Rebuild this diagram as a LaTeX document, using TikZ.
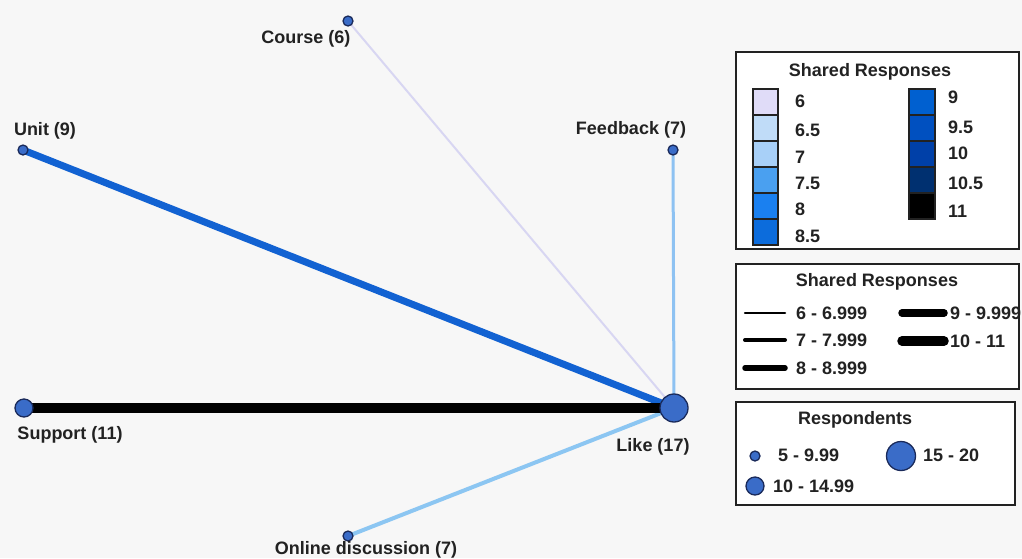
\documentclass[tikz,border=0pt]{standalone}
\usepackage{fontspec}
\setmainfont{Liberation Sans}
\usetikzlibrary{backgrounds}
\definecolor{bgc}{HTML}{F7F7F7}
\definecolor{txt}{HTML}{222222}
\definecolor{nodefill}{HTML}{3A6CC8}
\definecolor{nodeline}{HTML}{1A2A5A}
\definecolor{cA}{HTML}{E0DCF8}
\definecolor{cB}{HTML}{C0DCF8}
\definecolor{cC}{HTML}{A8D0F8}
\definecolor{cD}{HTML}{4AA0F0}
\definecolor{cE}{HTML}{1A80F0}
\definecolor{cF}{HTML}{0C6CDC}
\definecolor{cG}{HTML}{0060D0}
\definecolor{cH}{HTML}{0050C0}
\definecolor{cI}{HTML}{0040A8}
\definecolor{cJ}{HTML}{003070}
\definecolor{cK}{HTML}{000000}
\definecolor{edgeUnit}{HTML}{1262D2}
\definecolor{edgeCourse}{HTML}{D8D6F2}
\definecolor{edgeFeed}{HTML}{8EC2F2}
\definecolor{edgeOnline}{HTML}{8CC6F2}
\tikzset{
  x=1pt, y=-1pt,
  lbl/.style={font=\fontsize{18}{20}\selectfont\bfseries, text=txt, inner sep=0pt},
  circS/.style={circle, draw=nodeline, line width=1.3pt, fill=nodefill, minimum size=10pt, inner sep=0pt},
  circM/.style={circle, draw=nodeline, line width=1.3pt, fill=nodefill, minimum size=18pt, inner sep=0pt},
  circL/.style={circle, draw=nodeline, line width=1.3pt, fill=nodefill, minimum size=28pt, inner sep=0pt},
  legbox/.style={draw=txt, line width=1.4pt, fill=white},
  swatch/.style={draw=txt, line width=1.2pt},
  legline/.style={line cap=round, draw=black},
}
\begin{document}
\begin{tikzpicture}
\useasboundingbox (0,0) rectangle (1022,558);
\clip (0,0) rectangle (1022,558);

% network nodes
\node[circS] (course) at (348,21) {};
\node[circS] (unit) at (23,150) {};
\node[circS] (feed) at (673,150) {};
\node[circM] (support) at (24,408) {};
\node[circL] (like) at (674,408) {};
\node[circS] (online) at (348,536) {};

\begin{pgfonlayer}{background}
  \fill[bgc] (0,0) rectangle (1022,558);
  \draw[edgeCourse, line width=2pt] (course.center) -- (like.center);
  \draw[edgeFeed, line width=3pt] (feed.center) -- (like.center);
  \draw[edgeOnline, line width=4pt] (online.center) -- (like.center);
  \draw[edgeUnit, line width=7pt] (unit.center) -- (like.center);
  \draw[black, line width=10pt] (support.center) -- (like.center);
\end{pgfonlayer}

% node labels
\node[lbl] (courseL) at (306,39) {Course (6)};
\node[lbl] (unitL) at (45,131) {Unit (9)};
\node[lbl] (feedL) at (631,130) {Feedback (7)};
\node[lbl] (supportL) at (70,435) {Support (11)};
\node[lbl] (likeL) at (653,447) {Like (17)};
\node[lbl] (onlineL) at (366,550) {Online discussion (7)};

% legend 1: colours
\draw[legbox] (736,52) rectangle (1019,249);
\node[lbl] (t1) at (870,72) {Shared Responses};
\foreach \c/\v/\y/\ly [count=\i] in {cA/6/89/101, cB/6.5/115/130, cC/7/141/157, cD/7.5/167/183, cE/8/193/209, cF/8.5/219/236}{
  \draw[swatch, fill=\c] (753,\y) rectangle (778,\y+26);
  \node[lbl, anchor=west] (sl\i) at (795,\ly) {\v};
}
\foreach \c/\v/\y/\ly [count=\i] in {cG/9/89/97, cH/9.5/115/127, cI/10/141/153, cJ/10.5/167/183, cK/11/193/211}{
  \draw[swatch, fill=\c] (909,\y) rectangle (935,\y+26);
  \node[lbl, anchor=west] (sr\i) at (948,\ly) {\v};
}

% legend 2: widths
\draw[legbox] (736,264) rectangle (1019,389);
\node[lbl] (t2) at (877,282) {Shared Responses};
\draw[legline, line width=2.5pt] (745,313) -- (785,313);
\node[lbl, anchor=west] (w1) at (796,313) {6 - 6.999};
\draw[legline, line width=4pt] (745,340) -- (785,340);
\node[lbl, anchor=west] (w2) at (796,340) {7 - 7.999};
\draw[legline, line width=5.5pt] (745,368) -- (785,368);
\node[lbl, anchor=west] (w3) at (796,368) {8 - 8.999};
\draw[legline, line width=7.5pt] (902,313) -- (944,313);
\node[lbl, anchor=west] (w4) at (950,313) {9 - 9.999};
\draw[legline, line width=9.5pt] (902,341) -- (944,341);
\node[lbl, anchor=west] (w5) at (950,341) {10 - 11};

% legend 3: respondents
\draw[legbox] (736,402) rectangle (1015,505);
\node[lbl] (t3) at (855,420) {Respondents};
\node[circS] (r1) at (755,456) {};
\node[lbl, anchor=west] (r1L) at (778,455) {5 - 9.99};
\node[circL, minimum size=29pt] (r3) at (901,456) {};
\node[lbl, anchor=west] (r3L) at (923,455) {15 - 20};
\node[circM] (r2) at (755,486) {};
\node[lbl, anchor=west] (r2L) at (773,486) {10 - 14.99};
\end{tikzpicture}
\end{document}
